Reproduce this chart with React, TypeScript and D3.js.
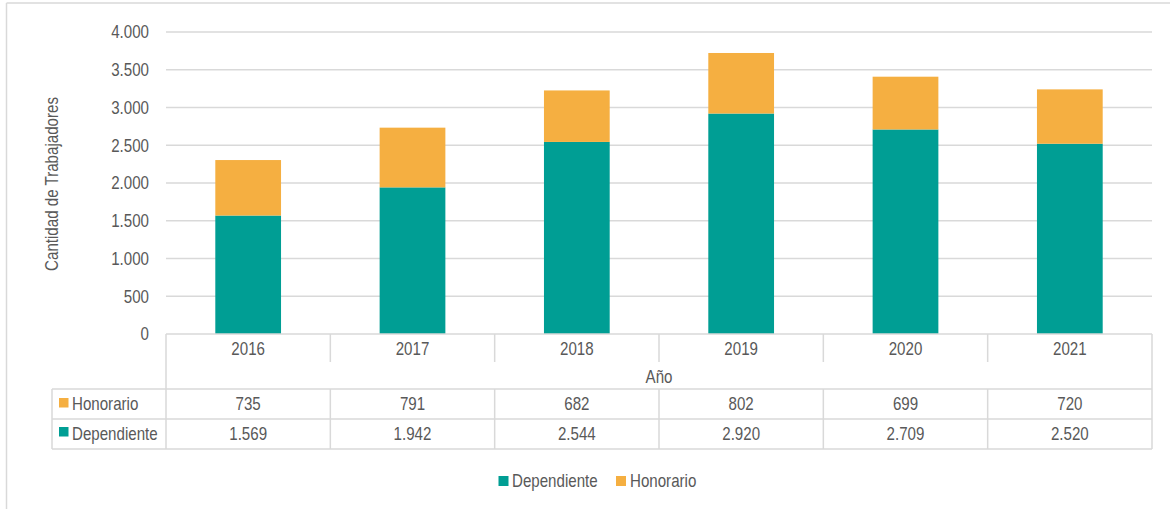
import React from "react";
import * as d3 from "d3";

const years = ["2016", "2017", "2018", "2019", "2020", "2021"];
const dependiente = [1569, 1942, 2544, 2920, 2709, 2520];
const honorario = [735, 791, 682, 802, 699, 720];
const yTicks = [0, 500, 1000, 1500, 2000, 2500, 3000, 3500, 4000];
const seriesNames = ["Dependiente", "Honorario"];
const seriesColors = ["#009E94", "#F5AF41"];

const W = 1170;
const H = 509;
const FONT = "'Liberation Sans', Arial, sans-serif";
const TXT = "#595959";
const GRID = "#D9D9D9";
const FS = 18;
const SX = 0.84;

const fmt = (v: number) => String(v).replace(/\B(?=(\d{3})+(?!\d))/g, ".");

function T(props: { x: number; y: number; anchor?: string; rotate?: number; children: React.ReactNode }) {
  const { x, y, anchor = "start", rotate = 0, children } = props;
  return (
    <text
      transform={`translate(${x},${y})${rotate ? ` rotate(${rotate})` : ""} scale(${SX},1)`}
      textAnchor={anchor}
      dy="0.35em"
      fontSize={FS}
      fill={TXT}
      fontFamily={FONT}
    >
      {children}
    </text>
  );
}

export default function App() {
  const left = 166;
  const right = 1152;
  const top = 32;
  const bottom = 334;

  const x = d3.scaleBand<string>().domain(years).range([left, right]).padding(0);
  const y = d3.scaleLinear().domain([0, 4000]).range([bottom, top]);
  const barW = x.bandwidth() * 0.4;

  const rowCat = 334;
  const rowCatEnd = 362;
  const rowHon = 389;
  const rowDep = 419;
  const rowEnd = 449;
  const keyLeft = 52;

  return (
    <svg width={W} height={H} style={{ position: "absolute", left: 0, top: 0, background: "#fff" }}>
      {/* outer frame */}
      <line x1={6.5} x2={6.5} y1={3} y2={H} stroke={GRID} strokeWidth={1.5} />
      <line x1={6.5} x2={W} y1={3} y2={3} stroke={GRID} strokeWidth={1.5} />

      {/* gridlines */}
      {yTicks.filter((t) => t > 0).map((t) => (
        <line key={t} x1={left} x2={right} y1={y(t)} y2={y(t)} stroke={GRID} strokeWidth={1.5} />
      ))}
      {yTicks.map((t) => (
        <T key={t} x={149} y={y(t)} anchor="end">{fmt(t)}</T>
      ))}
      <T x={52} y={184} anchor="middle" rotate={-90}>Cantidad de Trabajadores</T>

      {/* bars */}
      {years.map((yr, i) => {
        const cx = (x(yr) as number) + x.bandwidth() / 2;
        const d = dependiente[i];
        const h = honorario[i];
        return (
          <g key={yr}>
            <rect x={cx - barW / 2} y={y(d)} width={barW} height={y(0) - y(d)} fill={seriesColors[0]} />
            <rect x={cx - barW / 2} y={y(d + h)} width={barW} height={y(d) - y(d + h)} fill={seriesColors[1]} />
          </g>
        );
      })}

      {/* data table */}
      <g stroke={GRID} strokeWidth={1.5}>
        <line x1={left} x2={right} y1={rowCat} y2={rowCat} />
        <line x1={keyLeft} x2={right} y1={rowHon} y2={rowHon} />
        <line x1={keyLeft} x2={right} y1={rowDep} y2={rowDep} />
        <line x1={keyLeft} x2={right} y1={rowEnd} y2={rowEnd} />
        <line x1={keyLeft} x2={keyLeft} y1={rowHon} y2={rowEnd} />
        <line x1={left} x2={left} y1={rowCat} y2={rowEnd} />
        <line x1={right} x2={right} y1={rowCat} y2={rowEnd} />
        {years.slice(1).map((yr) => (
          <g key={yr}>
            <line x1={x(yr)} x2={x(yr)} y1={rowCat} y2={rowCatEnd} />
            <line x1={x(yr)} x2={x(yr)} y1={rowHon} y2={rowEnd} />
          </g>
        ))}
      </g>
      {years.map((yr, i) => {
        const cx = (x(yr) as number) + x.bandwidth() / 2;
        return (
          <g key={yr}>
            <T x={cx} y={349} anchor="middle">{yr}</T>
            <T x={cx} y={404} anchor="middle">{fmt(honorario[i])}</T>
            <T x={cx} y={434} anchor="middle">{fmt(dependiente[i])}</T>
          </g>
        );
      })}
      <T x={(left + right) / 2} y={377} anchor="middle">Año</T>

      {/* row keys */}
      <rect x={59} y={398} width={9.5} height={9.5} fill={seriesColors[1]} />
      <T x={72} y={404}>{seriesNames[1]}</T>
      <rect x={59} y={427} width={9.5} height={9.5} fill={seriesColors[0]} />
      <T x={72} y={434}>{seriesNames[0]}</T>

      {/* legend */}
      <rect x={498.5} y={476} width={10} height={10} fill={seriesColors[0]} />
      <T x={512} y={481}>{seriesNames[0]}</T>
      <rect x={616} y={476} width={10} height={10} fill={seriesColors[1]} />
      <T x={630} y={481}>{seriesNames[1]}</T>
    </svg>
  );
}
